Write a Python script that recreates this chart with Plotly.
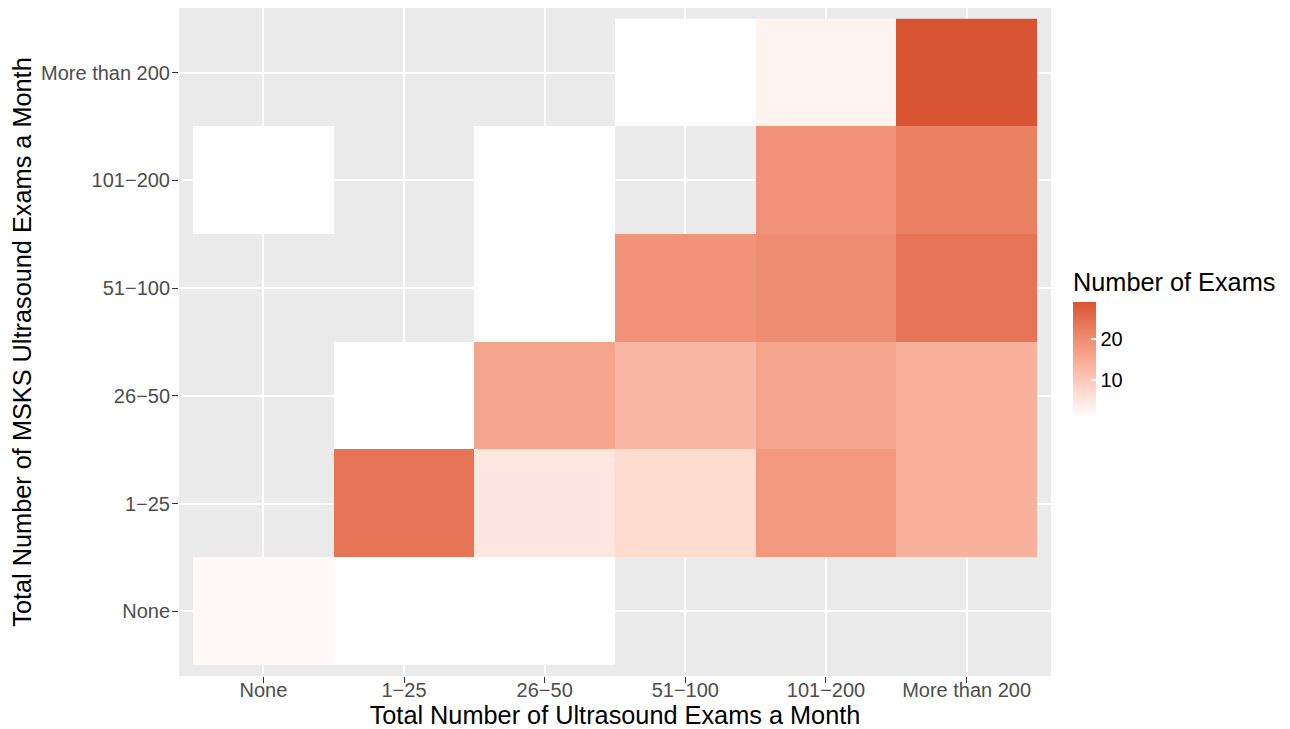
import numpy as np
import plotly.graph_objects as go

# ---- data ----
x_categories = ["None", "1\u221225", "26\u221250", "51\u2212100", "101\u2212200", "More than 200"]
y_categories = ["None", "1\u221225", "26\u221250", "51\u2212100", "101\u2212200", "More than 200"]

# rows follow y_categories (bottom to top), columns follow x_categories
row_none = [2, 1, 1, None, None, None]
row_1_25 = [None, 24, 5, 7, 18, 14]
row_26_50 = [None, 1, 16, 13, 16, 14]
row_51_100 = [None, None, 1, 19, 20, 24]
row_101_200 = [1, None, 1, None, 19, 22]
row_more_200 = [None, None, None, 1, 3, 29]

z_values = [row_none, row_1_25, row_26_50, row_51_100, row_101_200, row_more_200]
z_min, z_max = 1, 29
colorbar_ticks = [10, 20]

# ---- colour scale: white -> red, interpolated in CIE Lab like ggplot2 ----
def srgb_to_lin(c):
    c = np.asarray(c) / 255.0
    return np.where(c <= 0.04045, c / 12.92, ((c + 0.055) / 1.055) ** 2.4)

def lin_to_srgb(c):
    c = np.clip(c, 0, 1)
    v = np.where(c <= 0.0031308, 12.92 * c, 1.055 * c ** (1 / 2.4) - 0.055)
    return np.clip(np.round(v * 255), 0, 255).astype(int)

M = np.array([[0.4124, 0.3576, 0.1805],
              [0.2126, 0.7152, 0.0722],
              [0.0193, 0.1192, 0.9505]])
Minv = np.linalg.inv(M)
WHITE = M @ np.ones(3)

def f(t):
    d = 6 / 29
    return np.where(t > d ** 3, np.cbrt(t), t / (3 * d * d) + 4 / 29)

def finv(t):
    d = 6 / 29
    return np.where(t > d, t ** 3, 3 * d * d * (t - 4 / 29))

def rgb_to_lab(rgb):
    xyz = M @ srgb_to_lin(rgb) / WHITE
    fx, fy, fz = f(xyz)
    return np.array([116 * fy - 16, 500 * (fx - fy), 200 * (fy - fz)])

def lab_to_rgb(lab):
    L, a, b = lab
    fy = (L + 16) / 116
    fx = fy + a / 500
    fz = fy - b / 200
    xyz = np.array([finv(fx), finv(fy), finv(fz)]) * WHITE
    return lin_to_srgb(Minv @ xyz)

low = rgb_to_lab([255, 255, 255])
high = rgb_to_lab([217, 84, 51])
colorscale = []
for t in np.linspace(0, 1, 21):
    r, g, b = lab_to_rgb(low + (high - low) * t)
    colorscale.append([float(t), f"rgb({r},{g},{b})"])

FONT = "Liberation Sans, Arial, Helvetica, sans-serif"
TITLE_SIZE = 25.3
TICK_SIZE = 20

fig = go.Figure(
    go.Heatmap(
        x=x_categories,
        y=y_categories,
        z=z_values,
        zmin=z_min,
        zmax=z_max,
        colorscale=colorscale,
        hoverongaps=False,
        colorbar=dict(
            title=dict(text="Number of Exams", side="top",
                       font=dict(size=TITLE_SIZE, color="black", family=FONT)),
            tickvals=colorbar_ticks,
            ticks="inside",
            ticklen=5,
            tickwidth=1.5,
            tickcolor="white",
            tickfont=dict(size=TICK_SIZE, color="black", family=FONT),
            thickness=23,
            thicknessmode="pixels",
            len=148,
            lenmode="pixels",
            x=1.0252,
            xanchor="left",
            xpad=0,
            y=0.3877,
            yanchor="bottom",
            ypad=0,
            outlinewidth=0,
        ),
    )
)

axis_common = dict(
    type="category",
    showgrid=True,
    gridcolor="white",
    gridwidth=2,
    zeroline=False,
    showline=False,
    ticks="outside",
    ticklen=6,
    tickwidth=1.2,
    tickcolor="#333333",
    tickfont=dict(size=TICK_SIZE, color="#4D4D4D", family=FONT),
    range=[-0.6, 5.6],
    automargin=False,
)

fig.update_xaxes(
    **axis_common,
    categoryorder="array",
    categoryarray=x_categories,
    ticklabelstandoff=-10,
    title=dict(text="Total Number of Ultrasound Exams a Month",
               font=dict(size=TITLE_SIZE, color="black", family=FONT), standoff=4),
)
fig.update_yaxes(
    **axis_common,
    categoryorder="array",
    categoryarray=y_categories,
    ticklabelstandoff=-2,
    title=dict(text="Total Number of MSKS Ultrasound Exams a Month",
               font=dict(size=TITLE_SIZE, color="black", family=FONT), standoff=6),
)

fig.update_layout(
    width=1282,
    height=721,
    margin=dict(l=171, r=239, t=0, b=53),
    plot_bgcolor="#EBEBEB",
    paper_bgcolor="white",
    font=dict(family=FONT),
    showlegend=False,
)

fig.write_html("out.html")
